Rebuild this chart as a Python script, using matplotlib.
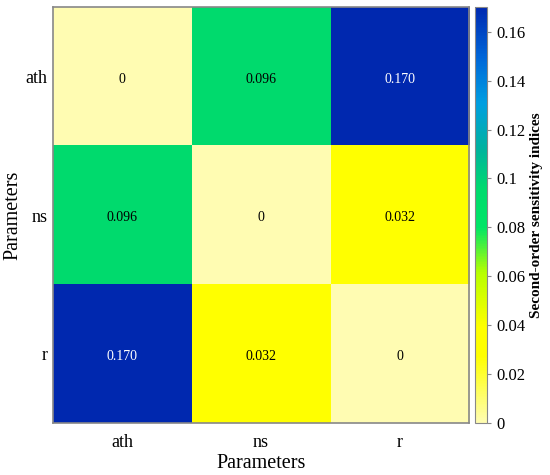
import matplotlib
matplotlib.use("Agg")
import matplotlib.pyplot as plt
import numpy as np
from matplotlib.colors import LinearSegmentedColormap

params = ["ath", "ns", "r"]
values = [[0.0, 0.096, 0.170],
          [0.096, 0.0, 0.032],
          [0.170, 0.032, 0.0]]
labels = [["0", "0.096", "0.170"],
          ["0.096", "0", "0.032"],
          ["0.170", "0.032", "0"]]
cbar_ticks = [0, 0.02, 0.04, 0.06, 0.08, 0.1, 0.12, 0.14, 0.16]
cbar_ticklabels = ["0", "0.02", "0.04", "0.06", "0.08", "0.1", "0.12", "0.14", "0.16"]

plt.rcParams['font.family'] = ['Liberation Serif', 'DejaVu Serif']

cmap = LinearSegmentedColormap.from_list("sens", [
    (0.0, (1.0, 0.99, 0.70)),
    (0.09, (1.0, 1.0, 0.30)),
    (0.16, (1.0, 1.0, 0.0)),
    (0.23, (1.0, 1.0, 0.0)),
    (0.36, (0.72, 1.0, 0.0)),
    (0.47, (0.0, 0.90, 0.40)),
    (0.565, (0.0, 0.855, 0.43)),
    (0.66, (0.0, 0.70, 0.62)),
    (0.77, (0.0, 0.62, 0.88)),
    (0.88, (0.0, 0.40, 0.85)),
    (1.0, (0.0, 0.16, 0.69)),
])

data = np.array(values)
fig = plt.figure(figsize=(5.5, 4.75), dpi=100)
ax = fig.add_axes([0.096, 0.109, 0.757, 0.876])
cax = fig.add_axes([0.864, 0.109, 0.022, 0.876])

im = ax.imshow(data, cmap=cmap, vmin=0, vmax=0.17, aspect='auto')
for i in range(3):
    for j in range(3):
        col = 'white' if data[i, j] > 0.13 else 'black'
        ax.text(j, i + 0.02, labels[i][j], ha='center', va='center', fontsize=10, color=col)

ax.set_xticks(range(3))
ax.set_xticklabels(params, fontsize=13)
ax.set_yticks(range(3))
ax.set_yticklabels(params, fontsize=13)
ax.tick_params(axis='y', length=0, pad=4)
ax.tick_params(axis='x', length=0, pad=8)
ax.set_xlabel("Parameters", fontsize=14.5)
ax.set_ylabel("Parameters", fontsize=14.5)
ax.xaxis.set_label_coords(0.5, -0.075)
ax.yaxis.set_label_coords(-0.072, 0.5)
for s in ax.spines.values():
    s.set_color('#888888')
    s.set_linewidth(1.2)

cb = fig.colorbar(im, cax=cax)
cb.set_ticks(cbar_ticks)
cb.set_ticklabels(cbar_ticklabels)
cb.ax.tick_params(labelsize=12, color='#888888', length=3)
cb.outline.set_edgecolor('#888888')
cb.set_label("Second-order sensitivity indices", fontsize=11, fontweight='bold', labelpad=3)

fig.savefig("out.png", dpi=100)
